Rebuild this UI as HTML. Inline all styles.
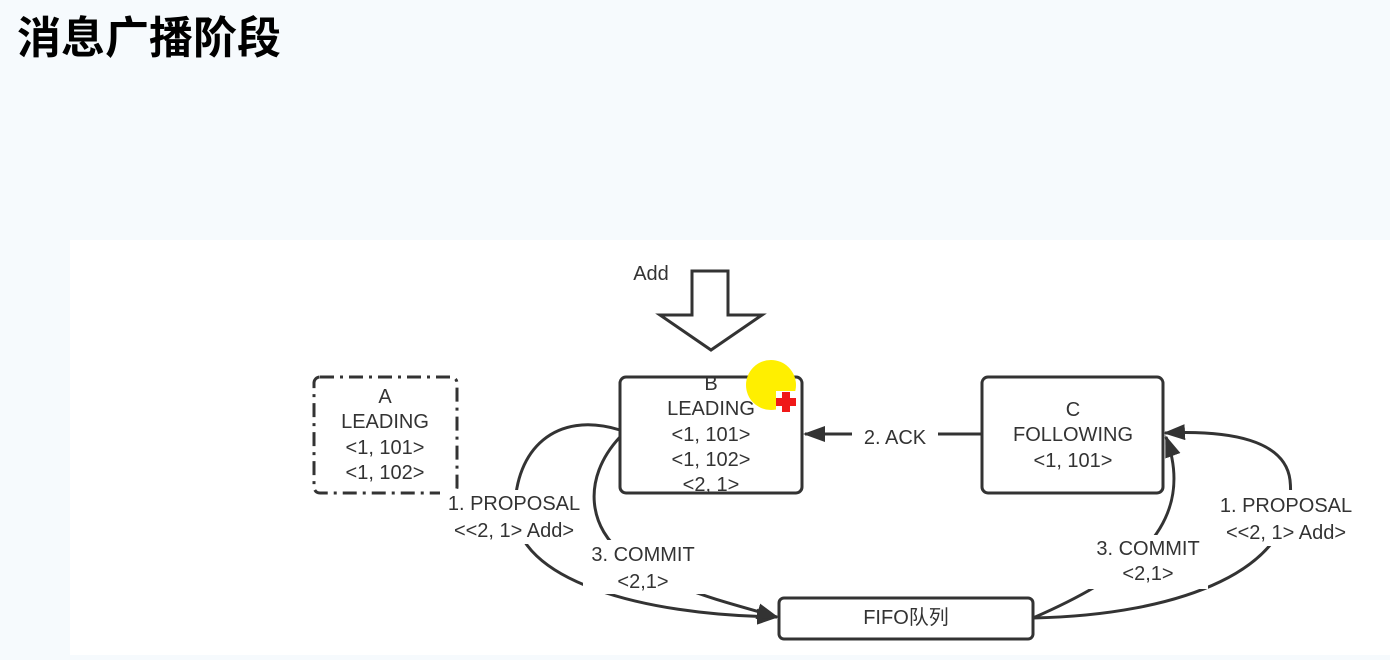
<!DOCTYPE html>
<html><head><meta charset="utf-8"><style>
body{margin:0;width:1390px;height:660px;background:#f6fafd;overflow:hidden;position:relative;font-family:"Liberation Sans","Noto Sans CJK SC",sans-serif}
h1{position:absolute;left:17px;top:8px;margin:0;font-size:44px;line-height:52px;font-weight:bold;color:#000;font-family:"Noto Sans CJK SC","WenQuanYi Zen Hei",sans-serif;letter-spacing:0px}
.panel{position:absolute;left:70px;top:240px;width:1320px;height:415px;background:#fff}
svg{position:absolute;left:0;top:0}
text{font-family:"Liberation Sans","Noto Sans CJK SC",sans-serif;fill:#333;font-size:20px;text-anchor:middle}
</style></head><body>
<h1>消息广播阶段</h1>
<div class="panel"></div>
<svg width="1390" height="660">
<defs><marker id="a2" markerWidth="22" markerHeight="16" refX="20" refY="8" orient="auto" markerUnits="userSpaceOnUse"><path d="M0,0 L22,8 L0,16 z" fill="#333"/></marker></defs>
<g stroke="#333" stroke-width="3" fill="none">
<polygon points="692,271 728,271 728,315 762,315 711,350 660,315 692,315" fill="#fff"/>
<rect x="314" y="377" width="143" height="116" rx="6" stroke-dasharray="14,6,3,6"/>
<rect x="620" y="377" width="182" height="116" rx="6" fill="#fff"/>
<rect x="982" y="377" width="181" height="116" rx="6" fill="#fff"/>
<rect x="779" y="598" width="254" height="41" rx="5" fill="#fff"/>
<line x1="982" y1="434" x2="805" y2="434" marker-end="url(#a2)"/>
<path d="M620,430 C555,410 515,450 515,510 C515,580 640,615 777,617" marker-end="url(#a2)"/>
<path d="M620,437 C580,480 590,530 625,555 C670,590 720,600 777,617" marker-end="url(#a2)"/>
<path d="M1033,618 C1180,615 1300,570 1290,480 C1285,440 1230,430 1165,433" marker-end="url(#a2)"/>
<path d="M1033,618 C1120,580 1200,530 1166,437" marker-end="url(#a2)"/>
</g>
<g fill="#fff">
<rect x="852" y="422" width="86" height="26"/>
<rect x="440" y="490" width="150" height="54"/>
<rect x="583" y="540" width="122" height="54"/>
<rect x="1210" y="490" width="152" height="56"/>
<rect x="1088" y="535" width="120" height="54"/>
</g>
<circle cx="771" cy="385" r="25" fill="#ffef00"/>
<rect x="776" y="391" width="22" height="20" fill="#fff"/>
<path d="M782,392h8v6h6v8h-6v6h-8v-6h-6v-8h6z" fill="#f01818"/>
<text x="651" y="280">Add</text>
<text x="385" y="403">A</text><text x="385" y="428">LEADING</text><text x="385" y="454">&lt;1, 101&gt;</text><text x="385" y="479">&lt;1, 102&gt;</text>
<text x="711" y="390">B</text><text x="711" y="415">LEADING</text><text x="711" y="441">&lt;1, 101&gt;</text><text x="711" y="466">&lt;1, 102&gt;</text><text x="711" y="491">&lt;2, 1&gt;</text>
<text x="1073" y="416">C</text><text x="1073" y="441">FOLLOWING</text><text x="1073" y="467">&lt;1, 101&gt;</text>
<text x="895" y="444">2. ACK</text>
<text x="514" y="510">1. PROPOSAL</text><text x="514" y="537">&lt;&lt;2, 1&gt; Add&gt;</text>
<text x="643" y="561">3. COMMIT</text><text x="643" y="588">&lt;2,1&gt;</text>
<text x="1286" y="512">1. PROPOSAL</text><text x="1286" y="539">&lt;&lt;2, 1&gt; Add&gt;</text>
<text x="1148" y="555">3. COMMIT</text><text x="1148" y="580">&lt;2,1&gt;</text>
<text x="906" y="624">FIFO队列</text>
</svg>
</body></html>
